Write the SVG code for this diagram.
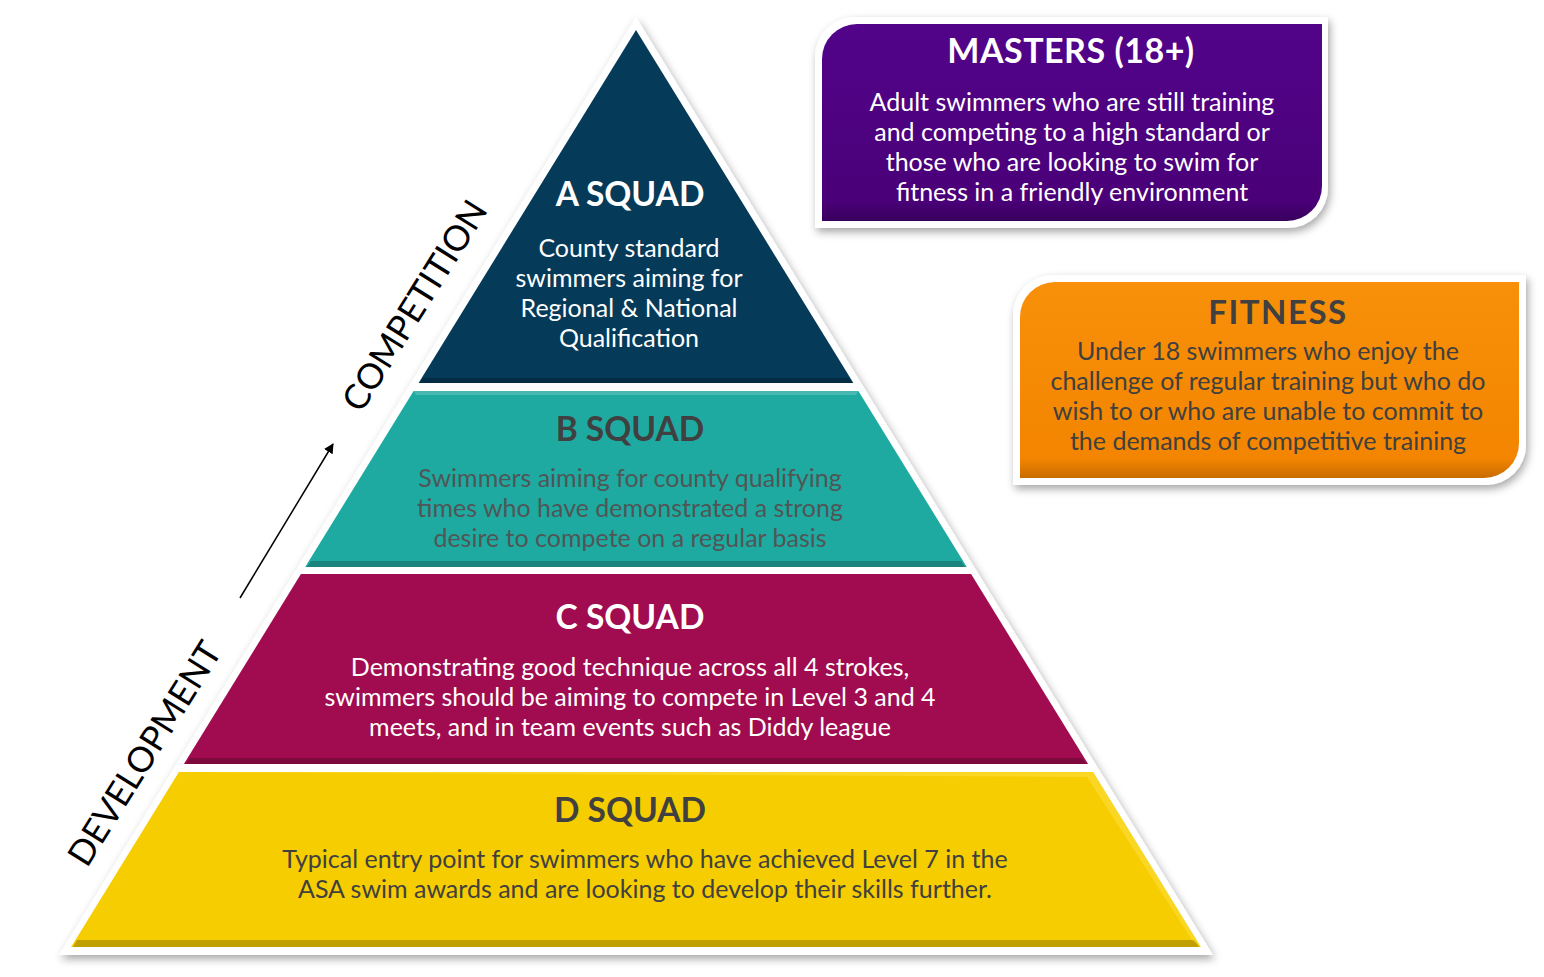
<svg xmlns="http://www.w3.org/2000/svg" width="1544" height="977" viewBox="0 0 1544 977">
<defs>
<filter id="sh" x="-10%" y="-10%" width="120%" height="120%">
<feDropShadow dx="2" dy="4" stdDeviation="4" flood-color="#000" flood-opacity="0.35"/>
</filter>
<linearGradient id="gPurple" x1="0" y1="0" x2="0" y2="1">
<stop offset="0" stop-color="#52048a"/><stop offset="0.9" stop-color="#4a0078"/><stop offset="1" stop-color="#38005c"/>
</linearGradient>
<linearGradient id="gOrange" x1="0" y1="0" x2="0" y2="1">
<stop offset="0" stop-color="#f8900a"/><stop offset="0.9" stop-color="#f38500"/><stop offset="1" stop-color="#c86c00"/>
</linearGradient>
<marker id="arr" viewBox="0 0 10 10" refX="9" refY="5" markerWidth="10" markerHeight="10" markerUnits="userSpaceOnUse" orient="auto">
<path d="M0,0 L10,5 L0,10 z" fill="#000"/>
</marker>
<style>
text{font-family:Lato,"Open Sans","Liberation Sans",sans-serif;text-anchor:middle}
.t{font-weight:bold;font-size:33.5px}
.b{font-size:25px}
.w{fill:#fff}
.g{fill:#404040}
.gb{fill:#505656}
.bev{fill:#000;opacity:0.22}
.side{fill:#fff;opacity:0.18}
.lab{font-size:35px;fill:#000}
</style>
</defs>
<rect width="1544" height="977" fill="#fff"/>

<g id="pyramid-frame">
<polygon points="636,17 1213,955 59,955" fill="#fff" filter="url(#sh)"/>
</g>

<g id="a-squad">
<polygon points="636,30 853.4,383 418.6,383" fill="#053a59"/>
<polygon points="420,383 852,383 849,378 423,378" class="bev"/>
<text x="630" y="206" class="t w">A SQUAD</text>
<text class="b w"><tspan x="629" y="257">County standard</tspan><tspan x="629" y="287">swimmers aiming for</tspan><tspan x="629" y="317">Regional &amp; National</tspan><tspan x="629" y="347">Qualification</tspan></text>
</g>

<g id="b-squad">
<polygon points="413.6,391 858.4,391 966.8,567 305.2,567" fill="#1faaa1"/>
<polygon points="307,567 965,567 961,561 311,561" class="bev"/>
<polygon points="413.6,391 858.4,391 856,395 416,395" class="side"/>
<text x="630" y="441" class="t g">B SQUAD</text>
<text class="b gb"><tspan x="630" y="487">Swimmers aiming for county qualifying</tspan><tspan x="630" y="517">times who have demonstrated a strong</tspan><tspan x="630" y="547">desire to compete on a regular basis</tspan></text>
</g>

<g id="c-squad">
<polygon points="300.9,574 971.1,574 1088.1,764 183.9,764" fill="#a00c4f"/>
<polygon points="186,764 1086,764 1082,758 190,758" class="bev"/>
<text x="630" y="629" class="t w">C SQUAD</text>
<text class="b w"><tspan x="630" y="676">Demonstrating good technique across all 4 strokes,</tspan><tspan x="630" y="706">swimmers should be aiming to compete in Level 3 and 4</tspan><tspan x="630" y="736">meets, and in team events such as Diddy league</tspan></text>
</g>

<g id="d-squad">
<polygon points="178.9,772 1093.1,772 1200.9,947 71.1,947" fill="#f6cd00"/>
<polygon points="73,947 1199,947 1195,940 77,940" class="bev"/>
<polygon points="178.9,772 1093.1,772 1096,777 1200.9,947 1192,940 1087,777" fill="#ffe24a" opacity="0.5"/>
<text x="630" y="822" class="t g">D SQUAD</text>
<text class="b g"><tspan x="645" y="868">Typical entry point for swimmers who have achieved Level 7 in the</tspan><tspan x="645" y="898">ASA swim awards and are looking to develop their skills further.</tspan></text>
</g>

<g id="masters">
<path d="M855,17 H1328 V188 A40,40 0 0 1 1288,228 H815 V57 A40,40 0 0 1 855,17 Z" fill="#fff" filter="url(#sh)"/>
<path d="M857,24 H1322 V186 A35,35 0 0 1 1287,221 H822 V59 A35,35 0 0 1 857,24 Z" fill="url(#gPurple)"/>
<text x="1071" y="63" class="t w" style="font-size:34px;letter-spacing:0.5px">MASTERS (18+)</text>
<text class="b w"><tspan x="1072" y="111">Adult swimmers who are still training</tspan><tspan x="1072" y="141">and competing to a high standard or</tspan><tspan x="1072" y="171">those who are looking to swim for</tspan><tspan x="1072" y="201">fitness in a friendly environment</tspan></text>
</g>

<g id="fitness">
<path d="M1053,275 H1526 V445 A40,40 0 0 1 1486,485 H1013 V315 A40,40 0 0 1 1053,275 Z" fill="#fff" filter="url(#sh)"/>
<path d="M1055,282 H1519 V443 A35,35 0 0 1 1484,478 H1020 V317 A35,35 0 0 1 1055,282 Z" fill="url(#gOrange)"/>
<text x="1278" y="324" class="t g" style="font-size:33px;letter-spacing:1.5px">FITNESS</text>
<text class="b g"><tspan x="1268" y="360">Under 18 swimmers who enjoy the</tspan><tspan x="1268" y="390">challenge of regular training but who do</tspan><tspan x="1268" y="420">wish to or who are unable to commit to</tspan><tspan x="1268" y="450">the demands of competitive training</tspan></text>
</g>

<g id="labels">
<text class="lab" transform="translate(425,312) rotate(-58)">COMPETITION</text>
<text class="lab" transform="translate(155,760) rotate(-58)">DEVELOPMENT</text>
</g>

<g id="connectors">
<line x1="240" y1="598" x2="333" y2="444" stroke="#000" stroke-width="1.5" marker-end="url(#arr)"/>
</g>
</svg>
